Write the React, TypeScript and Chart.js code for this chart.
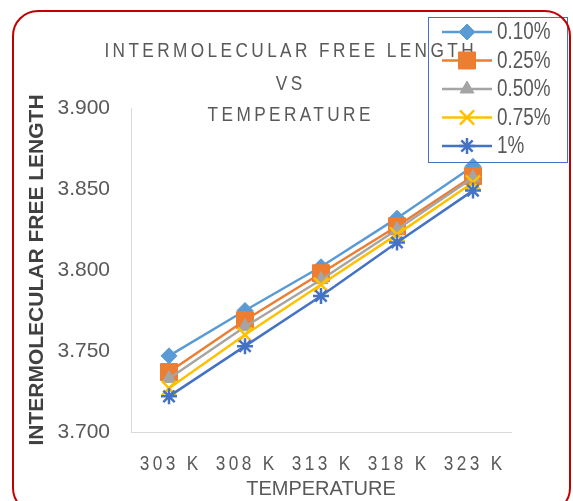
import React, { useEffect, useRef } from 'react';
import { Chart, registerables } from 'chart.js';
import { drawPoint } from 'chart.js/helpers';

Chart.register(...registerables);

// Temperatures on the category axis
const temperatures = ['303 K', '308 K', '313 K', '318 K', '323 K'];

// Concentration series names
const seriesLabels = ['0.10%', '0.25%', '0.50%', '0.75%', '1%'];

// Intermolecular free length values per concentration
const conc010 = [3.747, 3.775, 3.802, 3.832, 3.864];
const conc025 = [3.737, 3.769, 3.798, 3.827, 3.858];
const conc050 = [3.733, 3.765, 3.794, 3.825, 3.857];
const conc075 = [3.727, 3.76, 3.791, 3.822, 3.854];
const conc100 = [3.722, 3.753, 3.784, 3.817, 3.849];

// Value axis ticks
const yTicks = [3.7, 3.75, 3.8, 3.85, 3.9];

const titleLines = ['INTERMOLECULAR FREE LENGTH', 'VS', 'TEMPERATURE'];
const yAxisTitle = 'INTERMOLECULAR FREE LENGTH';
const xAxisTitle = 'TEMPERATURE';

const FONT = '"Liberation Sans", Arial, sans-serif';
const TEXT_GREY = '#595959';
// horizontal squeeze used to give the labels a condensed look
const CONDENSE = 0.82;

const seriesValues = [conc010, conc025, conc050, conc075, conc100];

const seriesStyles = [
  { color: '#5B9BD5', pointStyle: 'rectRot', radius: 8, borderWidth: 1 },
  { color: '#ED7D31', pointStyle: 'rect', radius: 12, borderWidth: 1 },
  { color: '#A5A5A5', pointStyle: 'triangle', radius: 8, borderWidth: 1 },
  { color: '#FFC000', pointStyle: 'crossRot', radius: 10, borderWidth: 2.5 },
  { color: '#4472C4', pointStyle: 'star', radius: 8, borderWidth: 2.5 },
];

function condensedText(
  ctx: CanvasRenderingContext2D,
  text: string,
  x: number,
  y: number,
  size: number,
  align: CanvasTextAlign,
  spacing: number
) {
  ctx.save();
  ctx.translate(x, y);
  ctx.scale(CONDENSE, 1);
  ctx.font = `${size}px ${FONT}`;
  ctx.textAlign = align;
  ctx.textBaseline = 'middle';
  const s = spacing / CONDENSE;
  (ctx as any).letterSpacing = `${s}px`;
  // letter spacing is also added after the last glyph; recentre for that
  const shift = align === 'center' ? s / 2 : 0;
  ctx.fillText(text, shift, 0);
  ctx.restore();
}

// Draws the spaced chart title, spaced category labels and the boxed legend
const decorations = {
  id: 'decorations',
  afterDraw(chart: any) {
    const ctx = chart.ctx as CanvasRenderingContext2D;
    const xScale = chart.scales.x;

    ctx.save();
    ctx.fillStyle = TEXT_GREY;

    // title, three centred lines with wide tracking
    const titleY = [51, 84, 115];
    titleLines.forEach((line, i) => {
      condensedText(ctx, line, 289, titleY[i], 21, 'center', 3.4);
    });

    // category labels
    temperatures.forEach((label, i) => {
      const x = xScale.getPixelForTick(i);
      condensedText(ctx, label, x, 464.5, 21, 'center', 3.4);
    });

    // legend
    const box = { left: 428, top: 17, right: 567, bottom: 162 };
    ctx.strokeStyle = '#4472C4';
    ctx.lineWidth = 1;
    ctx.strokeRect(box.left + 0.5, box.top + 0.5, box.right - box.left, box.bottom - box.top);

    seriesLabels.forEach((label, i) => {
      const st = seriesStyles[i];
      const y = 32 + i * 28.5;
      ctx.strokeStyle = st.color;
      ctx.fillStyle = st.color;
      ctx.lineWidth = 2.5;
      ctx.beginPath();
      ctx.moveTo(442, y);
      ctx.lineTo(492, y);
      ctx.stroke();
      ctx.lineWidth = st.borderWidth;
      drawPoint(
        ctx,
        { pointStyle: st.pointStyle as any, rotation: 0, radius: st.radius, borderWidth: st.borderWidth } as any,
        467,
        y
      );
      ctx.fillStyle = TEXT_GREY;
      condensedText(ctx, label, 497, y + 1, 23, 'left', 0);
    });
    ctx.restore();
  },
};

export default function App() {
  const canvasRef = useRef<HTMLCanvasElement | null>(null);

  useEffect(() => {
    document.body.style.margin = '0';
    const canvas = canvasRef.current;
    if (!canvas) return;

    const chart = new Chart(canvas, {
      type: 'line',
      data: {
        labels: temperatures,
        datasets: seriesLabels.map((label, i) => {
          const st = seriesStyles[i];
          return {
            label,
            data: seriesValues[i],
            borderColor: st.color,
            backgroundColor: st.color,
            borderWidth: 2.5,
            pointStyle: st.pointStyle as any,
            pointRadius: st.radius,
            pointBorderWidth: st.borderWidth,
            pointBackgroundColor: st.color,
            pointBorderColor: st.color,
            tension: 0,
            fill: false,
            order: seriesLabels.length - 1 - i,
          };
        }),
      },
      options: {
        responsive: false,
        animation: false,
        devicePixelRatio: 1,
        layout: { padding: { left: 0, right: 62, top: 108, bottom: 0 } },
        plugins: {
          legend: { display: false },
          tooltip: { enabled: false },
          title: { display: false },
        },
        scales: {
          x: {
            type: 'category',
            offset: true,
            grid: { display: false, drawTicks: false },
            border: { display: true, color: '#D9D9D9', width: 1 },
            ticks: { display: false },
            title: {
              display: true,
              text: xAxisTitle,
              color: TEXT_GREY,
              font: { family: FONT, size: 20, lineHeight: 1 },
              padding: { top: 0, bottom: 2 },
            },
            afterFit: (scale: any) => {
              scale.height = 69;
            },
          },
          y: {
            min: 3.7,
            max: 3.9,
            afterBuildTicks: (scale: any) => {
              scale.ticks = yTicks.map((value) => ({ value }));
            },
            ticks: {
              color: TEXT_GREY,
              font: { family: FONT, size: 21 },
              padding: 21,
              callback: (v: any) => Number(v).toFixed(3),
            },
            grid: { display: false, drawTicks: false },
            border: { display: true, color: '#D9D9D9', width: 1 },
            title: {
              display: true,
              text: yAxisTitle,
              color: '#404040',
              font: { family: FONT, size: 21, weight: 'bold', lineHeight: 1 },
              padding: { top: 27, bottom: 0 },
            },
            afterFit: (scale: any) => {
              scale.width = 131;
            },
          },
        },
      },
      plugins: [decorations],
    });

    return () => chart.destroy();
  }, []);

  return (
    <div style={{ position: 'relative', width: 573, height: 501, overflow: 'hidden', background: '#fff' }}>
      <canvas ref={canvasRef} width={573} height={501} style={{ display: 'block', width: 573, height: 501 }} />
      <div
        style={{
          position: 'absolute',
          left: 12,
          top: 10,
          width: 559,
          height: 504,
          boxSizing: 'border-box',
          border: '2.5px solid #C00000',
          borderRadius: 26,
          pointerEvents: 'none',
        }}
      />
    </div>
  );
}
